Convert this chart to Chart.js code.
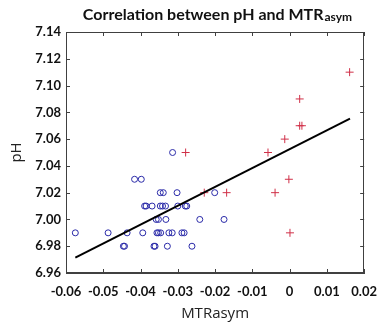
<!DOCTYPE html>
<html>
<head>
<meta charset="utf-8">
<script src="https://cdn.jsdelivr.net/npm/chart.js@4"></script>
<style>
  html, body { margin: 0; padding: 0; background: #fff; }
  #wrap { width: 388px; height: 323px; }
</style>
</head>
<body>
<div id="wrap"><canvas id="chart" width="388" height="323"></canvas></div>
<script>
// MTRasym (x) and pH (y) for the two groups
const blueX = [-0.0314,
  -0.0416, -0.0398,
  -0.0347, -0.0339, -0.0302, -0.0201,
  -0.0389, -0.0385, -0.0369, -0.0347, -0.0341, -0.0333, -0.0300, -0.0280, -0.0276,
  -0.0358, -0.0352, -0.0332, -0.0241, -0.0176,
  -0.0575, -0.0487, -0.0436, -0.0394, -0.0356, -0.0352, -0.0346, -0.0324, -0.0315, -0.0289, -0.0283,
  -0.0446, -0.0443, -0.0364, -0.0361, -0.0328, -0.0262];
const blueY = [7.05,
  7.03, 7.03,
  7.02, 7.02, 7.02, 7.02,
  7.01, 7.01, 7.01, 7.01, 7.01, 7.01, 7.01, 7.01, 7.01,
  7.00, 7.00, 7.00, 7.00, 7.00,
  6.99, 6.99, 6.99, 6.99, 6.99, 6.99, 6.99, 6.99, 6.99, 6.99, 6.99,
  6.98, 6.98, 6.98, 6.98, 6.98, 6.98];

const redX = [0.0161, 0.0027, 0.0027, 0.0033, -0.0013, -0.0058, -0.0279, -0.0002, -0.0229, -0.0169, -0.0039, 0.0001];
const redY = [7.11, 7.09, 7.07, 7.07, 7.06, 7.05, 7.05, 7.03, 7.02, 7.02, 7.02, 6.99];

// regression line end points
const fitX = [-0.0575, 0.0162];
const fitY = [6.9715, 7.0753];

const xTicks = [-0.06, -0.05, -0.04, -0.03, -0.02, -0.01, 0, 0.01, 0.02];
const yTicks = [6.96, 6.98, 7.00, 7.02, 7.04, 7.06, 7.08, 7.10, 7.12, 7.14];

const zip = (xs, ys) => xs.map((x, i) => ({ x: x, y: ys[i] }));

const tickFont = { family: 'Lato', size: 13, weight: 'bold' };

// title with subscript + inward ticks on all four sides
const decor = {
  id: 'decor',
  afterDraw(chart) {
    const ctx = chart.ctx;
    const a = chart.chartArea;
    const sx = chart.scales.x, sy = chart.scales.y;

    ctx.save();
    ctx.strokeStyle = '#404040';
    ctx.lineWidth = 1;
    ctx.beginPath();
    xTicks.forEach(v => {
      const px = Math.round(sx.getPixelForValue(v)) + 0.5;
      ctx.moveTo(px, a.top); ctx.lineTo(px, a.top + 4);
      ctx.moveTo(px, a.bottom); ctx.lineTo(px, a.bottom - 4);
    });
    yTicks.forEach(v => {
      const py = Math.round(sy.getPixelForValue(v)) + 0.5;
      ctx.moveTo(a.left, py); ctx.lineTo(a.left + 4, py);
      ctx.moveTo(a.right, py); ctx.lineTo(a.right - 4, py);
    });
    ctx.stroke();

    const main = 'Correlation between pH and MTR';
    const sub = 'asym';
    ctx.fillStyle = '#111';
    ctx.textBaseline = 'alphabetic';
    ctx.textAlign = 'left';
    ctx.font = 'bold 16px Lato';
    const w1 = ctx.measureText(main).width;
    ctx.font = 'bold 12px Lato';
    const w2 = ctx.measureText(sub).width;
    let x0 = 217 - (w1 + w2) / 2;
    ctx.font = 'bold 16px Lato';
    ctx.fillText(main, x0, 20);
    ctx.font = 'bold 12px Lato';
    ctx.fillText(sub, x0 + w1 + 1, 21);
    ctx.restore();
  }
};

new Chart(document.getElementById('chart'), {
  type: 'scatter',
  data: {
    datasets: [
      {
        type: 'line',
        data: zip(fitX, fitY),
        borderColor: '#000',
        borderWidth: 2,
        pointRadius: 0,
        fill: false,
        order: 0
      },
      {
        data: zip(blueX, blueY),
        pointStyle: 'circle',
        pointRadius: 3,
        borderColor: '#2a2aa8',
        backgroundColor: 'rgba(0,0,0,0)',
        borderWidth: 1,
        order: 1
      },
      {
        data: zip(redX, redY),
        pointStyle: 'cross',
        pointRadius: 4,
        borderColor: '#d03048',
        borderWidth: 1,
        order: 1
      }
    ]
  },
  options: {
    responsive: false,
    animation: false,
    layout: { padding: { top: 32, right: 17, left: 0, bottom: 0 } },
    plugins: {
      legend: { display: false },
      tooltip: { enabled: false }
    },
    scales: {
      x: {
        type: 'linear',
        min: -0.06,
        max: 0.02,
        afterBuildTicks: s => { s.ticks = xTicks.map(v => ({ value: v })); },
        afterFit: s => { s.height = 50; },
        grid: { display: false, drawTicks: false },
        border: { display: true, color: '#404040', width: 1 },
        ticks: {
          padding: 11,
          color: '#111',
          font: tickFont,
          maxRotation: 0,
          autoSkip: false,
          callback: v => String(Math.round(v * 100) / 100)
        },
        title: {
          display: true,
          text: 'MTRasym',
          color: '#222',
          font: { family: 'Open Sans', size: 15 },
          padding: { top: 4, bottom: 0 }
        }
      },
      y: {
        min: 6.96,
        max: 7.14,
        afterBuildTicks: s => { s.ticks = yTicks.map(v => ({ value: v })); },
        afterFit: s => { s.width = 66; },
        grid: { display: false, drawTicks: false },
        border: { display: true, color: '#404040', width: 1 },
        ticks: {
          padding: 5,
          color: '#111',
          font: tickFont,
          autoSkip: false,
          callback: v => v.toFixed(2)
        },
        title: {
          display: true,
          text: 'pH',
          color: '#222',
          font: { family: 'Open Sans', size: 15 },
          padding: { top: 8, bottom: 0 }
        }
      }
    }
  },
  plugins: [decor, {
    id: 'frame',
    afterDatasetsDraw(chart) {
      const a = chart.chartArea, ctx = chart.ctx;
      ctx.save();
      ctx.strokeStyle = '#404040';
      ctx.lineWidth = 1;
      ctx.strokeRect(Math.round(a.left) + 0.5, Math.round(a.top) + 0.5,
        Math.round(a.right - a.left) - 1, Math.round(a.bottom - a.top) - 1);
      ctx.restore();
    }
  }]
});
</script>
</body>
</html>
